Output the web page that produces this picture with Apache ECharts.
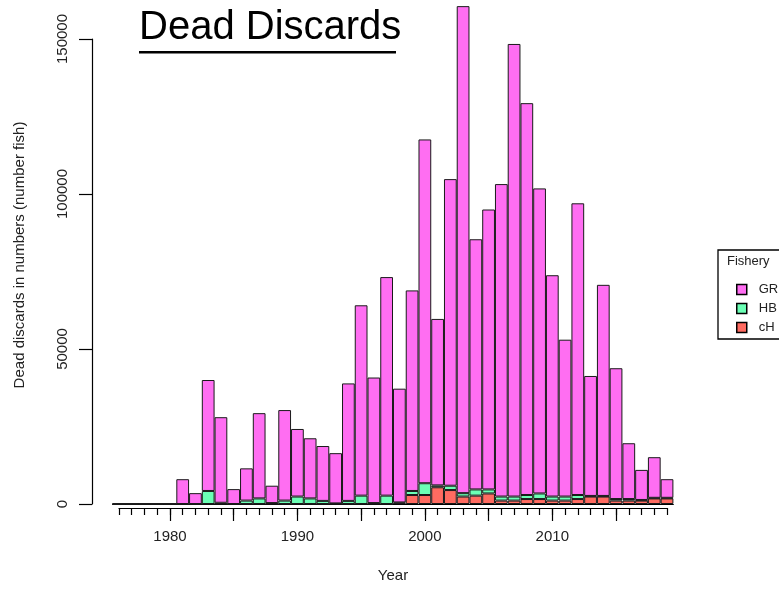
<!DOCTYPE html>
<html>
<head>
<meta charset="utf-8">
<title>Dead Discards</title>
<script src="https://cdn.jsdelivr.net/npm/echarts@6/dist/echarts.min.js"></script>
<style>
  html, body { margin: 0; padding: 0; background: #fff; }
  #chart { width: 779px; height: 590px; }
</style>
</head>
<body>
<div id="chart"></div>
<script>
// years on the x axis (1976-1980 have no discards)
var years = ['1976', '1977', '1978', '1979', '1980', '1981', '1982', '1983', '1984', '1985',
  '1986', '1987', '1988', '1989', '1990', '1991', '1992', '1993', '1994', '1995',
  '1996', '1997', '1998', '1999', '2000', '2001', '2002', '2003', '2004', '2005',
  '2006', '2007', '2008', '2009', '2010', '2011', '2012', '2013', '2014', '2015',
  '2016', '2017', '2018', '2019'];

// dead discards (number of fish) per fishery
var grValues = [0, 0, 0, 0, 0, 8000, 3500, 35800, 27600, 4800,
  10400, 27500, 5600, 29200, 21800, 19400, 17700, 16200, 37900, 61400,
  40500, 70500, 36700, 64700, 110900, 53700, 98900, 157100, 80700, 90300,
  100800, 146000, 126400, 98400, 71400, 50600, 94100, 38700, 68100, 42200,
  18000, 9700, 13100, 6000];
var hbValues = [0, 0, 0, 0, 0, 0, 0, 4200, 400, 0,
  1100, 1800, 300, 1100, 2400, 1800, 1000, 200, 1000, 2700,
  300, 2700, 300, 1300, 3800, 600, 1400, 1100, 2000, 1300,
  1300, 1300, 1300, 1800, 1300, 1300, 1300, 200, 200, 500,
  500, 200, 200, 200];
var chValues = [0, 0, 0, 0, 0, 0, 0, 0, 0, 0,
  0, 0, 0, 0, 0, 0, 0, 0, 0, 0,
  0, 0, 200, 2900, 2900, 5400, 4500, 2400, 2700, 3400,
  1100, 1100, 1600, 1600, 1100, 1100, 1600, 2400, 2400, 1100,
  1100, 1100, 1800, 1800];

var fisheryNames = ['GR', 'HB', 'cH'];
var colorArr = ['#ff6ef2', '#6bffb5', '#ff6b61'];

var yTicks = { min: 0, max: 150000, step: 50000 };

var fontName = '"Liberation Sans", Arial, sans-serif';

var myChart = echarts.init(document.getElementById('chart'));

function barSeries(name, values, color) {
  return {
    name: name,
    type: 'bar',
    stack: 'total',
    xAxisIndex: 0,
    yAxisIndex: 0,
    data: values,
    barCategoryGap: '0%',
    clip: false,
    itemStyle: {
      color: color,
      borderColor: '#1a1a1a',
      borderWidth: 1
    },
    emphasis: { disabled: true }
  };
}

var option = {
  backgroundColor: '#fff',
  animation: false,
  textStyle: { fontFamily: fontName },
  grid: [
    // bars
    { left: 112.6, right: 105.6, top: 39, bottom: 86 },
    // separate axis with the year ticks, as R draws it below the bars
    { left: 119, right: 112, top: 39, bottom: 82 }
  ],
  legend: {
    data: fisheryNames,
    orient: 'vertical',
    left: 731,
    top: 278,
    icon: 'rect',
    itemWidth: 10,
    itemHeight: 10,
    itemGap: 6,
    itemStyle: { borderColor: '#000', borderWidth: 1.5 },
    textStyle: { fontSize: 13, color: '#222', fontFamily: fontName, padding: [0, 0, 0, 7] }
  },
  xAxis: [{
    gridIndex: 0,
    type: 'category',
    data: years,
    axisLine: { show: true, lineStyle: { color: '#000', width: 1 } },
    axisTick: { show: false },
    axisLabel: { show: false },
    splitLine: { show: false }
  }, {
    gridIndex: 1,
    type: 'category',
    position: 'bottom',
    boundaryGap: false,
    data: years,
    axisLine: { show: true, lineStyle: { color: '#000', width: 1.2 } },
    axisTick: { show: true, interval: 0, length: 7, lineStyle: { color: '#000', width: 1.2 } },
    axisLabel: { show: false },
    splitLine: { show: false }
  }, {
    gridIndex: 1,
    type: 'category',
    position: 'bottom',
    boundaryGap: false,
    data: years,
    name: 'Year',
    nameLocation: 'middle',
    nameGap: 60,
    nameTextStyle: { fontSize: 15, color: '#222', fontFamily: fontName },
    axisLine: { show: false },
    axisTick: {
      show: true,
      length: 13,
      interval: function(index, value) { return Number(value) % 5 == 0; },
      lineStyle: { color: '#000', width: 1.2 }
    },
    axisLabel: {
      show: true,
      margin: 21,
      fontSize: 15,
      color: '#222',
      interval: function(index, value) { return Number(value) % 10 == 0; }
    },
    splitLine: { show: false }
  }],
  yAxis: [{
    gridIndex: 0,
    type: 'value',
    offset: 20.6,
    min: yTicks.min,
    max: yTicks.max,
    interval: yTicks.step,
    axisLine: { show: true, lineStyle: { color: '#000', width: 1.2 } },
    axisTick: { show: true, length: 13, lineStyle: { color: '#000', width: 1.2 } },
    axisLabel: {
      rotate: 90,
      margin: 22,
      fontSize: 15,
      color: '#222',
      formatter: function(value) { return String(value); }
    },
    splitLine: { show: false }
  }, {
    gridIndex: 1,
    type: 'value',
    show: false
  }],
  graphic: [
    // title with underline
    {
      type: 'text',
      left: 139,
      top: 8,
      style: { text: 'Dead Discards', font: '40px ' + fontName, fill: '#000' }
    },
    {
      type: 'rect',
      shape: { x: 139, y: 51, width: 257, height: 2.5 },
      style: { fill: '#000' }
    },
    // y axis title
    {
      type: 'text',
      x: 20,
      y: 255,
      rotation: Math.PI / 2,
      style: {
        text: 'Dead discards in numbers (number fish)',
        font: '15px ' + fontName,
        fill: '#222',
        align: 'center',
        verticalAlign: 'middle'
      }
    },
    // legend box and its title
    {
      type: 'rect',
      shape: { x: 718, y: 250, width: 90, height: 89 },
      style: { fill: 'none', stroke: '#000', lineWidth: 1.3 }
    },
    {
      type: 'text',
      x: 727,
      y: 261,
      style: { text: 'Fishery', font: '13px ' + fontName, fill: '#222', verticalAlign: 'middle' }
    }
  ],
  series: [
    barSeries('cH', chValues, colorArr[2]),
    barSeries('HB', hbValues, colorArr[1]),
    barSeries('GR', grValues, colorArr[0]),
    { type: 'bar', xAxisIndex: 1, yAxisIndex: 1, data: [], silent: true }
  ]
};

myChart.setOption(option);
</script>
</body>
</html>
